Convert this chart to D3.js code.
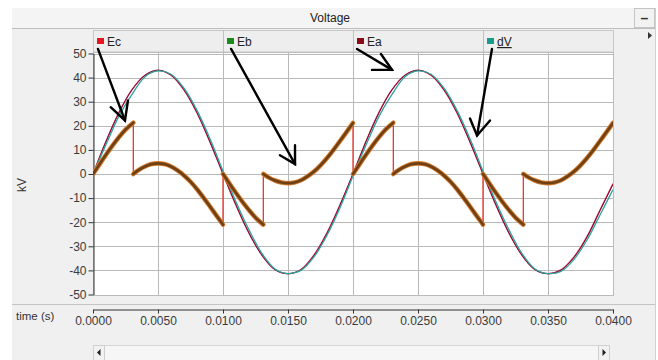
<!DOCTYPE html>
<html>
<head>
<meta charset="utf-8">
<script src="https://cdn.jsdelivr.net/npm/d3@7"></script>
<style>
  html, body { margin: 0; padding: 0; background: #ffffff; }
  svg text { font-family: "Liberation Sans", Arial, sans-serif; }
</style>
</head>
<body>
<svg id="chart" width="658" height="360"></svg>
<script>
// ---- axis ticks ----
const timeTicks = [0, 0.005, 0.01, 0.015, 0.02, 0.025, 0.03, 0.035, 0.04];
const kvTicks = [-50, -40, -30, -20, -10, 0, 10, 20, 30, 40, 50];

// ---- legend ----
const legendNames = ["Ec", "Eb", "Ea", "dV"];
const legendColors = ["#e8141e", "#1a8a1a", "#8b0a14", "#1a9a8a"];

// ---- sampled waveforms (s, kV) ----
const tSine = [0, 0.001, 0.002, 0.003, 0.004, 0.005, 0.006, 0.007, 0.008, 0.009,
  0.010, 0.011, 0.012, 0.013, 0.014, 0.015, 0.016, 0.017, 0.018, 0.019,
  0.020, 0.021, 0.022, 0.023, 0.024, 0.025, 0.026, 0.027, 0.028, 0.029,
  0.030, 0.031, 0.032, 0.033, 0.034, 0.035, 0.036, 0.037, 0.038, 0.039, 0.040];
const ecVals = [0, 13.6, 25.6, 35.0, 41.0, 43.0, 41.0, 34.8, 25.3, 13.2,
  0, -13.0, -24.6, -33.8, -39.7, -41.3, -39.6, -33.6, -24.4, -12.8,
  0, 13.6, 25.6, 35.0, 41.0, 43.0, 41.0, 34.8, 25.3, 13.2,
  0, -13.0, -24.6, -33.8, -39.7, -41.3, -39.8, -34.4, -26.0, -15.0, -4.0];
const eaVals = [0, 13.4, 25.4, 34.9, 41.0, 43.1, 41.1, 35.0, 25.5, 13.4,
  0.2, -12.8, -24.5, -33.7, -39.7, -41.4, -39.7, -33.8, -24.6, -13.0,
  0.1, 13.4, 25.4, 34.9, 41.0, 43.1, 41.1, 35.0, 25.5, 13.4,
  0.2, -12.8, -24.5, -33.7, -39.7, -41.4, -39.9, -34.6, -26.2, -15.2, -4.3];
const dvVals = [0, 12.2, 24.0, 33.0, 40.4, 42.8, 41.4, 35.6, 26.4, 14.6,
  1.2, -11.6, -23.2, -33.0, -39.4, -41.3, -40.0, -34.4, -25.4, -14.0,
  -0.8, 12.0, 23.9, 33.0, 40.4, 42.8, 41.4, 35.6, 26.4, 14.6,
  1.2, -11.6, -23.2, -33.0, -39.4, -41.3, -40.4, -35.4, -27.4, -17.0, -6.5];

// Eb: switched waveform, repeated time stamps mark the vertical jumps
const ebTime = [0, 0.0005, 0.001, 0.0015, 0.002, 0.0025, 0.0031,
  0.0031, 0.0035, 0.004, 0.0045, 0.005, 0.0055, 0.006, 0.0065, 0.007, 0.0075, 0.008, 0.0085, 0.009, 0.0095, 0.010,
  0.010, 0.0105, 0.011, 0.0115, 0.012, 0.0125, 0.0131,
  0.0131, 0.0135, 0.014, 0.0145, 0.015, 0.0155, 0.016, 0.0165, 0.017, 0.0175, 0.018, 0.0185, 0.019, 0.0195, 0.020,
  0.020, 0.0205, 0.021, 0.0215, 0.022, 0.0225, 0.0231,
  0.0231, 0.0235, 0.024, 0.0245, 0.025, 0.0255, 0.026, 0.0265, 0.027, 0.0275, 0.028, 0.0285, 0.029, 0.0295, 0.030,
  0.030, 0.0305, 0.031, 0.0315, 0.032, 0.0325, 0.0331,
  0.0331, 0.0335, 0.034, 0.0345, 0.035, 0.0355, 0.036, 0.0365, 0.037, 0.0375, 0.038, 0.0385, 0.039, 0.0395, 0.040];
const ebVals = [0, 4.0, 8.0, 11.8, 15.3, 18.4, 21.3,
  0, 1.6, 3.1, 4.1, 4.4, 4.1, 3.1, 1.5, -0.6, -3.2, -6.3, -9.8, -13.5, -17.3, -21.0,
  0, -4.0, -7.9, -11.6, -15.0, -18.1, -21.0,
  0, -1.4, -2.7, -3.5, -3.8, -3.5, -2.6, -1.0, 1.0, 3.6, 6.6, 10.0, 13.7, 17.4, 21.2,
  0, 4.0, 8.0, 11.8, 15.3, 18.4, 21.3,
  0, 1.6, 3.1, 4.1, 4.4, 4.1, 3.1, 1.5, -0.6, -3.2, -6.3, -9.8, -13.5, -17.3, -21.0,
  0, -4.0, -7.9, -11.6, -15.0, -18.1, -21.0,
  0, -1.4, -2.7, -3.5, -3.8, -3.5, -2.6, -1.0, 1.0, 3.6, 6.6, 10.0, 13.7, 17.4, 21.2];

// ---- annotation arrows, in data units: [shaft start, tip, wing 1, wing 2] ----
const arrowShafts = [
  [[0.00038, 51.9], [0.00246, 22.2], [0.00136, 27.7], [0.00269, 30.5]],
  [[0.01062, 51.9], [0.01554, 4.1], [0.01438, 7.8], [0.01554, 11.9]],
  [[0.02031, 51.9], [0.02300, 43.2], [0.02146, 43.2], [0.02215, 49.8]],
  [[0.03069, 51.9], [0.02954, 16.0], [0.02900, 23.0], [0.03054, 22.2]]
];

const svg = d3.select("#chart");
const plotL = 93, plotR = 613, plotT = 52, plotB = 296;
const x = d3.scaleLinear().domain([0, 0.04]).range([plotL, plotR]);
const y = d3.scaleLinear().domain([-50, 50]).range([294.5, 53.5]);

// ---- window panel ----
svg.append("rect").attr("x", 12).attr("y", 8).attr("width", 643).attr("height", 352).attr("fill", "#f0f0f0");
svg.append("line").attr("x1", 655.5).attr("x2", 655.5).attr("y1", 8).attr("y2", 360).attr("stroke", "#d0d0d0");

// title bar
svg.append("rect").attr("x", 12).attr("y", 8).attr("width", 643).attr("height", 20).attr("fill", "#f4f4f4");
svg.append("line").attr("x1", 12).attr("x2", 655).attr("y1", 28.5).attr("y2", 28.5).attr("stroke", "#bdbdbd");
svg.append("text").attr("x", 330).attr("y", 22).attr("text-anchor", "middle")
  .attr("font-size", 12).attr("fill", "#222").text("Voltage");
svg.append("rect").attr("x", 634.5).attr("y", 8.5).attr("width", 20).attr("height", 19)
  .attr("fill", "#f2f2f2").attr("stroke", "#c4c4c4");
svg.append("text").attr("x", 644.5).attr("y", 23).attr("text-anchor", "middle")
  .attr("font-size", 14).attr("font-weight", "bold").attr("fill", "#333").text("\u2013");
svg.append("path").attr("d", "M648,32 L652,35.5 L648,39 Z").attr("fill", "#333");

// legend row
const cellW = (plotR - plotL) / legendNames.length;
const legend = svg.append("g");
legend.append("rect").attr("x", plotL + 0.5).attr("y", 30.5).attr("width", plotR - plotL).attr("height", 21.5)
  .attr("fill", "#eeeeee").attr("stroke", "#c8c8c8");
legendNames.forEach((name, i) => {
  const cx = plotL + i * cellW;
  if (i > 0) legend.append("line").attr("x1", cx + 0.5).attr("x2", cx + 0.5).attr("y1", 30).attr("y2", 52)
    .attr("stroke", "#c0c0c0");
  legend.append("rect").attr("x", cx + 4).attr("y", 38).attr("width", 7).attr("height", 6).attr("fill", legendColors[i]);
  const t = legend.append("text").attr("x", cx + 14).attr("y", 46).attr("font-size", 12).attr("fill", "#222").text(name);
  if (name === "dV") t.attr("text-decoration", "underline");
});

// ---- plot area ----
svg.append("rect").attr("x", plotL).attr("y", plotT).attr("width", plotR - plotL).attr("height", plotB - plotT)
  .attr("fill", "#ffffff");
const grid = svg.append("g").attr("stroke", "#b9b9b9").attr("stroke-width", 1);
kvTicks.forEach(v => grid.append("line").attr("x1", plotL).attr("x2", plotR)
  .attr("y1", Math.round(y(v)) + 0.5).attr("y2", Math.round(y(v)) + 0.5));
timeTicks.forEach(t => grid.append("line").attr("y1", plotT).attr("y2", plotB)
  .attr("x1", Math.round(x(t)) + 0.5).attr("x2", Math.round(x(t)) + 0.5));
svg.append("rect").attr("x", plotL + 0.5).attr("y", plotT + 0.5).attr("width", plotR - plotL).attr("height", plotB - plotT - 1)
  .attr("fill", "none").attr("stroke", "#bcbcbc");

// y axis
const yAxis = svg.append("g").attr("transform", `translate(${plotL + 0.5},0)`)
  .call(d3.axisLeft(y).tickValues(kvTicks).tickFormat(d => String(d)).tickSize(5).tickSizeOuter(0).tickPadding(2));
yAxis.select(".domain").attr("stroke", "#333");
yAxis.selectAll(".tick line").attr("stroke", "#333");
yAxis.selectAll("text").attr("font-size", 12).attr("fill", "#3a3a3a")
  .attr("font-family", "'Liberation Sans', Arial, sans-serif");
svg.append("text").attr("transform", "translate(26,185) rotate(-90)").attr("text-anchor", "middle")
  .attr("font-size", 12).attr("fill", "#333").text("kV");

// ---- waveforms ----
const clip = svg.append("clipPath").attr("id", "plotClip");
clip.append("rect").attr("x", plotL).attr("y", plotT).attr("width", plotR - plotL).attr("height", plotB - plotT);
const plot = svg.append("g").attr("clip-path", "url(#plotClip)");

const sineLine = d3.line().x(d => x(d[0])).y(d => y(d[1])).curve(d3.curveCatmullRom.alpha(0.5));
const pairs = vals => tSine.map((t, i) => [t, vals[i]]);
plot.append("path").attr("d", sineLine(pairs(ecVals))).attr("fill", "none").attr("stroke", "#e0204a").attr("stroke-width", 1.3);
plot.append("path").attr("d", sineLine(pairs(eaVals))).attr("fill", "none").attr("stroke", "#7a1030").attr("stroke-width", 1);
plot.append("path").attr("d", sineLine(pairs(dvVals))).attr("fill", "none").attr("stroke", "#2aa3a0").attr("stroke-width", 1.3);

// Eb: thin red trace including the jumps, thick brown trace between jumps
const ebPts = ebTime.map((t, i) => [t, ebVals[i]]);
plot.append("path").attr("d", d3.line().x(d => x(d[0])).y(d => y(d[1]))(ebPts))
  .attr("fill", "none").attr("stroke", "#e02a20").attr("stroke-width", 1.2);
const segments = [];
let cur = [];
ebPts.forEach((p, i) => {
  if (i > 0 && p[0] === ebPts[i - 1][0]) { segments.push(cur); cur = []; }
  cur.push(p);
});
segments.push(cur);
const ebLine = d3.line().x(d => x(d[0])).y(d => y(d[1])).curve(d3.curveMonotoneX);
segments.forEach(seg => {
  plot.append("path").attr("d", ebLine(seg)).attr("fill", "none").attr("stroke", "#d2782e")
    .attr("stroke-width", 4.6).attr("stroke-linecap", "round").attr("stroke-linejoin", "round");
  plot.append("path").attr("d", ebLine(seg)).attr("fill", "none").attr("stroke", "#6e4012")
    .attr("stroke-width", 2.6).attr("stroke-linecap", "round").attr("stroke-linejoin", "round");
});

// ---- lower band: separator, time axis, scrollbar ----
svg.append("line").attr("x1", 12).attr("x2", 655).attr("y1", 304.5).attr("y2", 304.5).attr("stroke", "#c4c4c4");
const xAxis = svg.append("g").attr("transform", "translate(0,309.5)")
  .call(d3.axisBottom(x).tickValues(timeTicks).tickFormat(d3.format(".4f")).tickSize(4).tickSizeOuter(0).tickPadding(3));
xAxis.select(".domain").attr("stroke", "#333");
xAxis.selectAll(".tick line").attr("stroke", "#333");
xAxis.selectAll("text").attr("font-size", 12).attr("fill", "#3a3a3a")
  .attr("font-family", "'Liberation Sans', Arial, sans-serif");
svg.append("text").attr("x", 16).attr("y", 320).attr("font-size", 11.5).attr("fill", "#333").text("time (s)");

svg.append("rect").attr("x", 93.5).attr("y", 345.5).attr("width", 516).attr("height", 15)
  .attr("fill", "#f6f6f6").attr("stroke", "#d6d6d6");
svg.append("rect").attr("x", 93.5).attr("y", 345.5).attr("width", 11).attr("height", 15)
  .attr("fill", "#f2f2f2").attr("stroke", "#cfcfcf");
svg.append("rect").attr("x", 598.5).attr("y", 345.5).attr("width", 11).attr("height", 15)
  .attr("fill", "#f2f2f2").attr("stroke", "#cfcfcf");
svg.append("path").attr("d", "M100.5,349 L97,352.5 L100.5,356 Z").attr("fill", "#222");
svg.append("path").attr("d", "M602.5,349 L606,352.5 L602.5,356 Z").attr("fill", "#222");

// ---- annotation arrows ----
const arrows = svg.append("g").attr("stroke", "#000").attr("stroke-width", 2.4)
  .attr("stroke-linecap", "round").attr("fill", "none");
arrowShafts.forEach(a => {
  const [s, tip, w1, w2] = a;
  arrows.append("line").attr("x1", x(s[0])).attr("y1", y(s[1])).attr("x2", x(tip[0])).attr("y2", y(tip[1]));
  arrows.append("polyline").attr("points",
    [w1, tip, w2].map(p => `${x(p[0])},${y(p[1])}`).join(" "));
});
</script>
</body>
</html>
